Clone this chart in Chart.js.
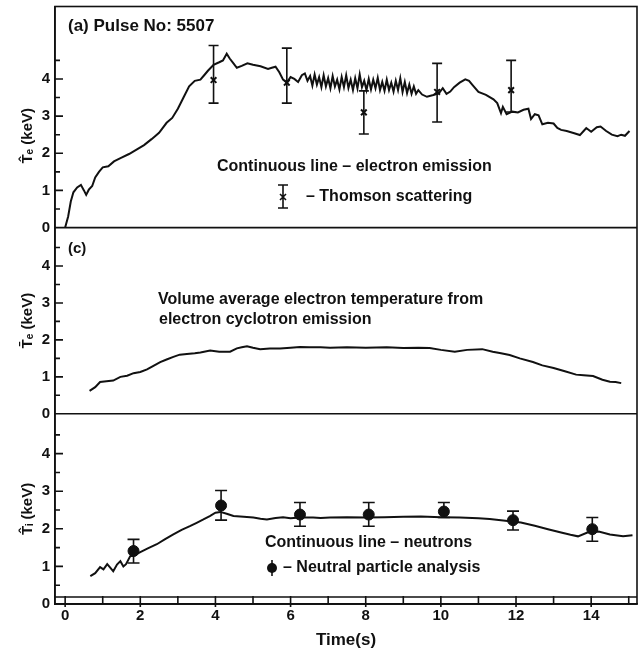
<!DOCTYPE html>
<html>
<head>
<meta charset="utf-8">
<script src="https://cdn.jsdelivr.net/npm/chart.js@4.4.1/dist/chart.umd.min.js"></script>
<style>
  html, body { margin: 0; padding: 0; background: #fff; }
  #wrap { width: 644px; height: 654px; }
</style>
</head>
<body>
<div id="wrap"><canvas id="myChart"></canvas></div>
<script>
// (a) peak electron temperature from electron cyclotron emission
const eceTime = [0.0, 0.08, 0.15, 0.22, 0.32, 0.42, 0.5, 0.56, 0.63, 0.72, 0.8, 0.9, 1.0, 1.15, 1.3, 1.5, 1.7, 1.9, 2.1, 2.3,
  2.5, 2.7, 2.85, 3.0, 3.15, 3.3, 3.45, 3.6, 3.7, 3.8, 3.95, 4.1, 4.2, 4.3, 4.38, 4.48, 4.57, 4.7, 4.85, 5.0,
  5.2, 5.4, 5.5, 5.6, 5.7, 5.8, 5.9, 6.0, 6.1, 6.2, 6.3, 6.38, 6.45,
  6.52, 6.58, 6.64, 6.7, 6.76, 6.82, 6.88, 6.94, 7.0, 7.06, 7.12, 7.18, 7.24, 7.3, 7.36, 7.42, 7.48, 7.54, 7.6, 7.66,
  7.72, 7.78, 7.84, 7.9, 7.96, 8.02, 8.08, 8.14, 8.2, 8.26, 8.32, 8.38, 8.44, 8.5, 8.56, 8.62, 8.68, 8.74, 8.8, 8.86,
  8.92, 8.98, 9.04, 9.1, 9.16, 9.22, 9.28, 9.34, 9.4,
  9.5, 9.63, 9.8, 9.95, 10.05, 10.15, 10.25, 10.35, 10.5, 10.65, 10.75, 10.85, 11.0, 11.2, 11.4, 11.5, 11.6, 11.65,
  11.75, 11.9, 12.05, 12.2, 12.33, 12.4, 12.5, 12.6, 12.7, 12.85, 13.0, 13.1, 13.2, 13.35, 13.55, 13.7, 13.8, 13.87,
  14.0, 14.15, 14.25, 14.4, 14.55, 14.7, 14.8, 14.9, 15.02];
const eceTe = [0.0, 0.3, 0.7, 0.95, 1.08, 1.15, 1.0, 0.88, 1.02, 1.12, 1.35, 1.5, 1.62, 1.65, 1.78, 1.88, 1.98, 2.1, 2.22, 2.38,
  2.55, 2.82, 2.95, 3.2, 3.5, 3.8, 3.95, 3.98, 4.1, 4.22, 4.38, 4.45, 4.5, 4.68, 4.55, 4.42, 4.3, 4.35, 4.42, 4.38,
  4.34, 4.27, 4.3, 4.33, 4.18, 3.98, 3.9, 4.05, 4.0, 3.92, 4.1, 4.15, 3.95,
  4.08, 3.82, 4.12, 3.85, 4.05, 3.78, 4.1, 3.8, 4.02, 3.75, 4.08, 3.8, 3.98, 3.72, 4.05, 3.78, 4.1, 3.76, 3.98, 3.7,
  4.02, 3.75, 4.12, 3.78, 3.95, 3.7, 4.0, 3.72, 3.98, 3.75, 4.03, 3.7, 3.92, 3.68, 3.98, 3.7, 3.9, 3.66, 3.95, 3.7,
  4.02, 3.65, 3.92, 3.62, 3.85, 3.6, 3.8, 3.6, 3.7,
  3.58, 3.52, 3.57, 3.62, 3.75, 3.6, 3.66, 3.78, 3.9, 3.99, 3.95, 3.83, 3.65, 3.57, 3.45, 3.35, 3.08, 3.25,
  3.05, 3.12, 3.1, 3.17, 3.2, 2.92, 3.05, 3.02, 2.78, 2.82, 2.8, 2.68, 2.63, 2.6, 2.54, 2.49, 2.6, 2.68,
  2.58, 2.7, 2.72, 2.6, 2.5, 2.46, 2.5, 2.47, 2.6];

// Thomson scattering with error bars
const thomsonTime = [3.95, 5.9, 7.95, 9.9, 11.87];
const thomsonTe = [3.97, 3.9, 3.1, 3.65, 3.7];
const thomsonLow = [3.35, 3.35, 2.52, 2.84, 3.11];
const thomsonHigh = [4.9, 4.83, 3.68, 4.42, 4.5];

// (c) volume average electron temperature
const avgTime = [0.65, 0.8, 0.93, 1.1, 1.28, 1.47, 1.65, 1.82, 2.0, 2.18, 2.35, 2.53, 2.7, 2.88, 3.05, 3.24, 3.45, 3.6, 3.86, 4.1,
  4.39, 4.57, 4.7, 4.84, 5.0, 5.19, 5.45, 5.72, 6.0, 6.25, 6.5, 6.8, 7.05, 7.5, 8.0, 8.56, 9.0, 9.4, 9.7, 10.0,
  10.37, 10.7, 11.1, 11.38, 11.6, 11.83, 12.1, 12.45, 12.7, 13.0, 13.3, 13.6, 13.8, 14.05, 14.3, 14.5, 14.65, 14.8];
const avgTe = [0.62, 0.72, 0.86, 0.88, 0.9, 1.0, 1.03, 1.1, 1.13, 1.2, 1.3, 1.4, 1.47, 1.54, 1.6, 1.62, 1.64, 1.66, 1.71, 1.68,
  1.68, 1.77, 1.8, 1.83, 1.79, 1.75, 1.77, 1.77, 1.79, 1.81, 1.8, 1.8, 1.79, 1.8, 1.79, 1.8, 1.78, 1.79, 1.78, 1.73,
  1.68, 1.73, 1.75, 1.68, 1.64, 1.59, 1.5, 1.4, 1.31, 1.24, 1.15, 1.06, 1.04, 1.02, 0.92, 0.87, 0.86, 0.83];

// ion temperature from neutrons
const neutronTime = [0.67, 0.8, 0.93, 1.02, 1.12, 1.2, 1.28, 1.38, 1.47, 1.55, 1.62, 1.73, 1.85, 2.0, 2.2, 2.44, 2.65, 2.88, 3.1, 3.32,
  3.5, 3.68, 3.85, 4.0, 4.13, 4.3, 4.48, 4.75, 5.01, 5.2, 5.37, 5.6, 5.8, 6.0, 6.25, 6.6, 6.8, 7.05, 7.5, 8.03,
  8.5, 9.0, 9.47, 10.0, 10.5, 11.0, 11.3, 11.6, 12.13, 12.5, 12.85, 13.2, 13.45, 13.65, 13.9, 14.2, 14.5, 14.85, 15.1];
const neutronTi = [0.74, 0.82, 0.98, 0.92, 1.06, 0.97, 0.87, 1.05, 1.14, 1.0, 1.06, 1.27, 1.3, 1.38, 1.48, 1.59, 1.72, 1.85, 1.97, 2.07,
  2.16, 2.25, 2.34, 2.43, 2.45, 2.4, 2.34, 2.32, 2.3, 2.27, 2.25, 2.29, 2.31, 2.28, 2.3, 2.3, 2.29, 2.3, 2.31, 2.3,
  2.31, 2.32, 2.33, 2.31, 2.3, 2.28, 2.26, 2.23, 2.17, 2.08, 1.99, 1.9, 1.84, 1.8, 1.9, 1.93, 1.85, 1.8, 1.83];

// neutral particle analysis with error bars
const npaTime = [1.82, 4.15, 6.25, 8.08, 10.08, 11.92, 14.03];
const npaTi = [1.41, 2.62, 2.38, 2.38, 2.46, 2.23, 1.99];
const npaLow = [1.09, 2.23, 2.07, 2.07, 2.3, 1.97, 1.67];
const npaHigh = [1.72, 3.02, 2.7, 2.7, 2.7, 2.47, 2.3];

const xTickLabels = [0, 2, 4, 6, 8, 10, 12, 14];
const yTickLabels = [0, 1, 2, 3, 4];
const yTickMarks = [0, 0.5, 1, 1.5, 2, 2.5, 3, 3.5, 4, 4.5];

const INK = "#111";
const FONT = "'Liberation Sans', Arial, sans-serif";

function pts(xs, ys) {
  return xs.map((x, i) => ({ x: x, y: ys[i] }));
}

const errorBars = {
  id: "errorBars",
  afterDatasetsDraw(chart) {
    const ctx = chart.ctx;
    chart.data.datasets.forEach((ds) => {
      if (!ds.errLow) return;
      const xs = chart.scales.x;
      const ys = chart.scales[ds.yAxisID];
      ctx.save();
      ctx.strokeStyle = INK;
      ctx.lineWidth = 1.6;
      ds.data.forEach((p, j) => {
        const px = xs.getPixelForValue(p.x);
        const lo = ys.getPixelForValue(ds.errLow[j]);
        const hi = ys.getPixelForValue(ds.errHigh[j]);
        ctx.beginPath();
        ctx.moveTo(px, lo);
        ctx.lineTo(px, hi);
        ctx.moveTo(px - ds.capHalf, lo);
        ctx.lineTo(px + ds.capHalf, lo);
        ctx.moveTo(px - ds.capHalf, hi);
        ctx.lineTo(px + ds.capHalf, hi);
        ctx.stroke();
      });
      ctx.restore();
    });
  },
};

// panel frames, inward ticks and the time strip
const frames = {
  id: "frames",
  afterDraw(chart) {
    const ctx = chart.ctx;
    const a = chart.chartArea;
    ctx.save();
    ctx.strokeStyle = INK;
    ctx.lineWidth = 1.6;
    ctx.strokeRect(a.left, a.top, a.right - a.left, a.bottom - a.top);
    ["y1", "y2", "y3"].forEach((id) => {
      const s = chart.scales[id];
      ctx.beginPath();
      ctx.moveTo(a.left, s.bottom);
      ctx.lineTo(a.right, s.bottom);
      yTickMarks.forEach((v) => {
        const py = s.getPixelForValue(v);
        const len = Number.isInteger(v) ? 8 : 5;
        ctx.moveTo(a.left, py);
        ctx.lineTo(a.left + len, py);
      });
      ctx.stroke();
    });
    const xs = chart.scales.x;
    ctx.beginPath();
    ctx.moveTo(a.left, a.bottom - 7);
    ctx.lineTo(a.right, a.bottom - 7);
    xs.ticks.forEach((t) => {
      const px = xs.getPixelForValue(t.value);
      ctx.moveTo(px, a.bottom - 8);
      ctx.lineTo(px, a.bottom + (t.value % 2 === 0 ? 3 : 0));
    });
    ctx.stroke();
    ctx.restore();
  },
};

// panel captions and legend keys
const notes = {
  id: "notes",
  afterDraw(chart) {
    const ctx = chart.ctx;
    ctx.save();
    ctx.fillStyle = INK;
    ctx.strokeStyle = INK;
    ctx.textBaseline = "middle";
    ctx.font = "bold 17px " + FONT;
    ctx.fillText("(a) Pulse No: 5507", 68, 26);
    ctx.font = "bold 16px " + FONT;
    ctx.fillText("Continuous line \u2013 electron emission", 217, 167);
    ctx.fillText("\u2013 Thomson scattering", 306, 197);
    ctx.fillText("Volume average electron temperature from", 158, 300);
    ctx.fillText("electron cyclotron emission", 159, 320);
    ctx.fillText("Continuous line \u2013 neutrons", 265, 543);
    ctx.fillText("\u2013 Neutral particle analysis", 283, 568);
    ctx.font = "bold 15px " + FONT;
    ctx.fillText("(c)", 68, 249);

    // Thomson key
    ctx.lineWidth = 1.6;
    ctx.beginPath();
    ctx.moveTo(283, 185); ctx.lineTo(283, 208);
    ctx.moveTo(278, 185); ctx.lineTo(288, 185);
    ctx.moveTo(278, 208); ctx.lineTo(288, 208);
    ctx.moveTo(280, 194); ctx.lineTo(286, 200);
    ctx.moveTo(286, 194); ctx.lineTo(280, 200);
    ctx.stroke();

    // NPA key
    ctx.beginPath();
    ctx.moveTo(272, 560); ctx.lineTo(272, 576);
    ctx.stroke();
    ctx.beginPath();
    ctx.arc(272, 568, 5, 0, Math.PI * 2);
    ctx.fill();
    ctx.restore();
  },
};

function yAxis(weight, max, title) {
  return {
    type: "linear",
    position: "left",
    stack: "panels",
    stackWeight: weight,
    min: 0,
    max: max,
    afterFit: (s) => { s.width = 55; },
    grid: { display: false, drawTicks: false },
    border: { display: true, color: INK, width: 1.6 },
    ticks: {
      stepSize: 1,
      includeBounds: false,
      autoSkip: false,
      padding: 5,
      color: INK,
      // tiny line height so the label box does not push the plot area down
      font: { family: FONT, size: 15, weight: "bold", lineHeight: 0.15 },
      callback: (v) => (yTickLabels.includes(v) ? v : ""),
    },
    title: {
      display: true,
      text: title,
      color: INK,
      padding: { top: 19, bottom: 0 },
      font: { family: "'Liberation Sans', 'DejaVu Sans', sans-serif", size: 15, weight: "bold" },
    },
  };
}

const ctx = document.getElementById("myChart");

new Chart(ctx, {
  type: "scatter",
  data: {
    datasets: [
      {
        data: pts(thomsonTime, thomsonTe),
        yAxisID: "y1",
        pointStyle: "crossRot",
        pointRadius: 4,
        pointBorderWidth: 2,
        borderColor: INK,
        backgroundColor: INK,
        errLow: thomsonLow,
        errHigh: thomsonHigh,
        capHalf: 5,
        order: 0,
      },
      {
        data: pts(npaTime, npaTi),
        yAxisID: "y3",
        pointStyle: "circle",
        pointRadius: 5.5,
        borderColor: INK,
        backgroundColor: INK,
        errLow: npaLow,
        errHigh: npaHigh,
        capHalf: 6,
        order: 0,
      },
      {
        data: pts(eceTime, eceTe),
        yAxisID: "y1",
        showLine: true,
        pointRadius: 0,
        borderColor: INK,
        borderWidth: 2,
        order: 1,
      },
      {
        data: pts(avgTime, avgTe),
        yAxisID: "y2",
        showLine: true,
        pointRadius: 0,
        borderColor: INK,
        borderWidth: 2,
        order: 1,
      },
      {
        data: pts(neutronTime, neutronTi),
        yAxisID: "y3",
        showLine: true,
        pointRadius: 0,
        borderColor: INK,
        borderWidth: 2,
        order: 1,
      },
    ],
  },
  options: {
    responsive: true,
    maintainAspectRatio: false,
    animation: false,
    layout: { padding: { top: 6, right: 7, left: 0, bottom: 3.6 } },
    plugins: {
      legend: { display: false },
      tooltip: { enabled: false },
    },
    scales: {
      x: {
        type: "linear",
        min: -0.27,
        max: 15.22,
        grid: { display: false, drawTicks: false },
        border: { display: true, color: INK, width: 1.6 },
        ticks: {
          stepSize: 1,
          includeBounds: false,
          autoSkip: false,
          maxRotation: 0,
          padding: 3,
          color: INK,
          font: { family: FONT, size: 15, weight: "bold" },
          callback: (v) => (xTickLabels.includes(v) ? v : ""),
        },
        title: {
          display: true,
          text: "Time(s)",
          color: INK,
          padding: { top: 2, bottom: 0 },
          font: { family: FONT, size: 17, weight: "bold" },
        },
      },
      y3: yAxis(191, 5.06, "T\u0302\u1D62 (keV)"),
      y2: yAxis(187, 5.04, "T\u0304\u2091 (keV)"),
      // trailing en spaces push the top label a little below the panel centre, as in the original
      y1: yAxis(222, 5.95, "T\u0302\u2091 (keV)\u2002\u2002\u2002\u2002\u2002"),
    },
  },
  plugins: [frames, errorBars, notes],
});
</script>
</body>
</html>
